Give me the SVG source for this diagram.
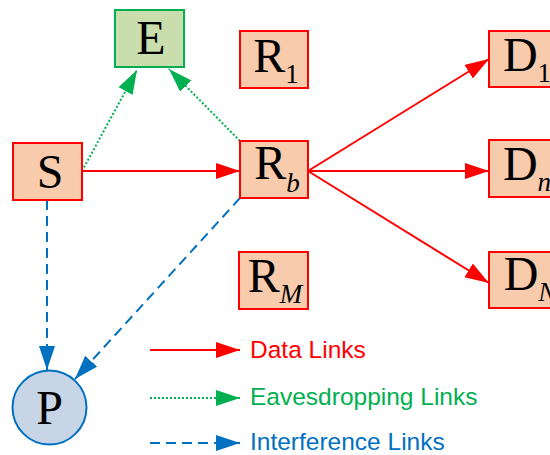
<svg xmlns="http://www.w3.org/2000/svg" width="550" height="455" viewBox="0 0 550 455">
  <style>
    .node { fill: #f8cbad; stroke: #ff0000; stroke-width: 2; }
    .eve { fill: #c9ddad; stroke: #00b050; stroke-width: 2; }
    .pu { fill: #c7d5e7; stroke: #0070c0; stroke-width: 2; }
    .lbl { font-family: "Liberation Serif", "Times New Roman", serif; font-size: 48px; fill: #000; text-anchor: middle; }
    .sub { font-size: 27px; }
    .it { font-style: italic; }
    .data { stroke: #ff0000; stroke-width: 2; fill: none; }
    .eav { stroke: #00b050; stroke-width: 2; stroke-dasharray: 2 2; fill: none; }
    .intf { stroke: #0070c0; stroke-width: 2; stroke-dasharray: 10 6; fill: none; }
    .leg { font-family: "Liberation Sans", Arial, sans-serif; font-size: 24.5px; }
  </style>
  <defs>
    <marker id="arrRed" markerUnits="userSpaceOnUse" markerWidth="25" markerHeight="17" refX="24" refY="8" orient="auto">
      <path d="M0,0 L24,8 L0,16 z" fill="#ff0000"/>
    </marker>
    <marker id="arrGreen" markerUnits="userSpaceOnUse" markerWidth="25" markerHeight="17" refX="24" refY="8" orient="auto">
      <path d="M0,0 L24,8 L0,16 z" fill="#00b050"/>
    </marker>
    <marker id="arrBlue" markerUnits="userSpaceOnUse" markerWidth="25" markerHeight="17" refX="24" refY="8" orient="auto">
      <path d="M0,0 L24,8 L0,16 z" fill="#0070c0"/>
    </marker>
  </defs>

  <!-- links -->
  <g id="connectors">
    <line class="data" x1="82" y1="171" x2="240" y2="171" marker-end="url(#arrRed)"/>
    <line class="data" x1="308" y1="171" x2="489" y2="59" marker-end="url(#arrRed)"/>
    <line class="data" x1="308" y1="171" x2="489" y2="171" marker-end="url(#arrRed)"/>
    <line class="data" x1="308" y1="171" x2="489" y2="283" marker-end="url(#arrRed)"/>
    <line class="eav" x1="82" y1="171" x2="137" y2="70" marker-end="url(#arrGreen)"/>
    <line class="eav" x1="240" y1="141" x2="169" y2="69" marker-end="url(#arrGreen)"/>
    <line class="intf" x1="47" y1="200" x2="47" y2="370" marker-end="url(#arrBlue)"/>
    <line class="intf" x1="240" y1="198" x2="75" y2="379" marker-end="url(#arrBlue)"/>
  </g>

  <g id="E">
    <rect class="eve" x="115" y="10" width="69" height="57"/>
    <text class="lbl" x="151" y="54">E</text>
  </g>
  <g id="S">
    <rect class="node" x="13" y="143" width="69" height="57"/>
    <text class="lbl" x="50" y="188">S</text>
  </g>
  <g id="R1">
    <rect class="node" x="240" y="31" width="68" height="57"/>
    <text class="lbl" x="276" y="72">R<tspan class="sub" dy="11">1</tspan></text>
  </g>
  <g id="Rb">
    <rect class="node" x="240" y="141" width="68" height="57"/>
    <text class="lbl" x="277" y="179">R<tspan class="sub it" dy="13">b</tspan></text>
  </g>
  <g id="RM">
    <rect class="node" x="239" y="252" width="69" height="57"/>
    <text class="lbl" x="275" y="292">R<tspan class="sub it" dy="11">M</tspan></text>
  </g>
  <g id="D1">
    <rect class="node" x="489" y="31" width="68" height="56"/>
    <text class="lbl" x="527" y="71">D<tspan class="sub" dy="11">1</tspan></text>
  </g>
  <g id="Dn">
    <rect class="node" x="489" y="140" width="68" height="57"/>
    <text class="lbl" x="527" y="180">D<tspan class="sub it" dy="11">n</tspan></text>
  </g>
  <g id="DN">
    <rect class="node" x="489" y="252" width="68" height="56"/>
    <text class="lbl" x="530" y="290">D<tspan class="sub it" dy="11">N</tspan></text>
  </g>
  <g id="P">
    <circle class="pu" cx="49.5" cy="407.5" r="37"/>
    <text class="lbl" x="49.5" y="424">P</text>
  </g>

  <!-- legend -->
  <g id="legend">
    <line class="data" x1="150" y1="350" x2="240" y2="350" marker-end="url(#arrRed)"/>
    <text class="leg" x="250" y="358" fill="#ff0000">Data Links</text>
    <line class="eav" x1="150" y1="398" x2="240" y2="398" marker-end="url(#arrGreen)"/>
    <text class="leg" x="250" y="405" fill="#00b050">Eavesdropping Links</text>
    <line class="intf" x1="150" y1="443" x2="240" y2="443" marker-end="url(#arrBlue)"/>
    <text class="leg" x="250" y="450" fill="#0070c0">Interference Links</text>
  </g>
</svg>
